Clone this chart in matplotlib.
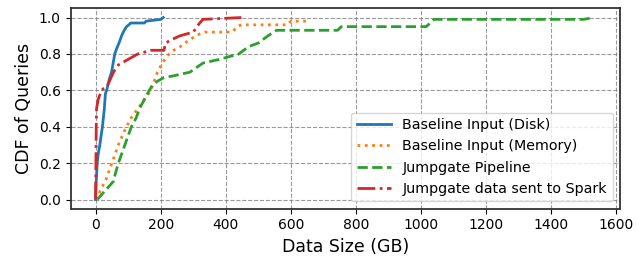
#!/usr/bin/env python3

import numpy as np
import matplotlib.pyplot as plt

# CDF points (x in GB, y = fraction of queries)
disk_x = [0, 2, 5, 8, 13, 17, 21, 24, 27, 30, 34, 38, 42, 49, 54, 59, 65, 72, 80, 88, 95, 102,
          108, 150, 155, 200, 208]
disk_y = [0.0, 0.1, 0.2, 0.25, 0.3, 0.35, 0.4, 0.45, 0.5, 0.58, 0.6, 0.63, 0.66, 0.7, 0.75, 0.8,
          0.83, 0.86, 0.9, 0.93, 0.95, 0.96, 0.97, 0.97, 0.98, 0.99, 1.0]

mem_x = [0, 10, 20, 30, 40, 50, 60, 70, 82, 95, 110, 130, 150, 170, 180, 190, 205, 220, 240,
         260, 290, 320, 335, 420, 435, 448, 590, 600, 653]
mem_y = [0.0, 0.03, 0.07, 0.1, 0.15, 0.2, 0.25, 0.3, 0.35, 0.4, 0.45, 0.5, 0.55, 0.6, 0.65, 0.7,
         0.75, 0.79, 0.82, 0.84, 0.88, 0.91, 0.92, 0.92, 0.95, 0.96, 0.96, 0.98, 0.98]

pipe_x = [5, 15, 30, 45, 55, 62, 70, 80, 90, 100, 110, 125, 135, 150, 165, 175, 190, 210, 240,
          290, 330, 380, 440, 470, 500, 530, 556, 744, 755, 1016, 1040, 1500, 1530]
pipe_y = [0.0, 0.02, 0.05, 0.08, 0.1, 0.15, 0.2, 0.25, 0.3, 0.35, 0.4, 0.45, 0.5, 0.55, 0.6,
          0.63, 0.65, 0.67, 0.68, 0.7, 0.75, 0.77, 0.8, 0.84, 0.86, 0.9, 0.93, 0.93, 0.95, 0.95,
          0.99, 0.99, 1.0]

spark_x = [0, 1, 2, 3, 5, 8, 12, 18, 25, 35, 45, 55, 70, 90, 110, 130, 170, 210, 215, 235,
           260, 300, 320, 330, 448]
spark_y = [0.0, 0.2, 0.4, 0.5, 0.52, 0.55, 0.57, 0.6, 0.61, 0.62, 0.66, 0.7, 0.74, 0.76, 0.78,
           0.8, 0.82, 0.82, 0.86, 0.88, 0.9, 0.92, 0.97, 0.99, 1.0]

labels = ['Baseline Input (Disk)', 'Baseline Input (Memory)',
          'Jumpgate Pipeline', 'Jumpgate data sent to Spark']

fig = plt.figure(figsize=(6.44, 2.56), dpi=100)
ax = fig.add_axes([0.1095, 0.185, 0.853, 0.782])
ax.plot(disk_x, disk_y, '-', color='tab:blue', lw=2, label=labels[0])
ax.plot(mem_x, mem_y, ':', color='tab:orange', lw=2, label=labels[1])
ax.plot(pipe_x, pipe_y, '--', color='tab:green', lw=2, label=labels[2])
ax.plot(spark_x, spark_y, '-.', color='tab:red', lw=2, label=labels[3])

ax.set_xlim(-77, 1611)
ax.set_ylim(-0.05, 1.05)
ax.grid(True, linestyle='--', color='gray', alpha=0.8)
for s in ax.spines.values():
    s.set_color('#333333')
    s.set_linewidth(1.3)
ax.set_xlabel('Data Size (GB)', fontsize=12.5)
ax.set_ylabel('CDF of Queries', fontsize=12.5)
ax.set_yticks(np.arange(0, 1.01, 0.2))
ax.set_xticks(np.arange(0, 1601, 200))
ax.tick_params(labelsize=10)
ax.legend(loc='lower right', fontsize=10.3, handlelength=2.4)

fig.savefig('out.png')
